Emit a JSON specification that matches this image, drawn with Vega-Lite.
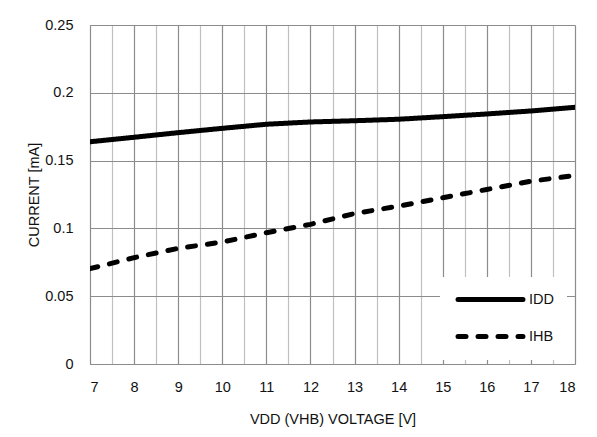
{
  "$schema": "https://vega.github.io/schema/vega-lite/v6.json",
  "autosize": {"type": "none"},
  "width": 485,
  "height": 339,
  "padding": {"left": 90, "top": 25, "right": 22, "bottom": 73},
  "background": "white",
  "config": {
    "font": "Liberation Sans",
    "view": {"stroke": null},
    "axis": {"labelFont": "Liberation Sans", "titleFont": "Liberation Sans", "labelFontSize": 14.5, "titleFontSize": 14.5, "titleFontWeight": "normal", "labelColor": "#111", "titleColor": "#111", "ticks": false, "domainColor": "#8c8c8c", "gridOpacity": 1}
  },
  "data": {"values": [
    {"v": 7, "series": "IDD", "current": 0.1639},
    {"v": 8, "series": "IDD", "current": 0.1672},
    {"v": 9, "series": "IDD", "current": 0.1706},
    {"v": 10, "series": "IDD", "current": 0.1738},
    {"v": 11, "series": "IDD", "current": 0.1768},
    {"v": 12, "series": "IDD", "current": 0.1785},
    {"v": 13, "series": "IDD", "current": 0.1794},
    {"v": 14, "series": "IDD", "current": 0.1805},
    {"v": 15, "series": "IDD", "current": 0.1824},
    {"v": 16, "series": "IDD", "current": 0.1844},
    {"v": 17, "series": "IDD", "current": 0.1866},
    {"v": 18, "series": "IDD", "current": 0.1893},
    {"v": 7, "series": "IHB", "current": 0.0703},
    {"v": 8, "series": "IHB", "current": 0.0784},
    {"v": 9, "series": "IHB", "current": 0.0853},
    {"v": 10, "series": "IHB", "current": 0.0899},
    {"v": 11, "series": "IHB", "current": 0.0968},
    {"v": 12, "series": "IHB", "current": 0.103},
    {"v": 13, "series": "IHB", "current": 0.111},
    {"v": 14, "series": "IHB", "current": 0.1164},
    {"v": 15, "series": "IHB", "current": 0.1226},
    {"v": 16, "series": "IHB", "current": 0.1287},
    {"v": 17, "series": "IHB", "current": 0.1348},
    {"v": 18, "series": "IHB", "current": 0.139}
  ]},
  "mark": {"type": "line", "strokeWidth": 5, "strokeCap": "round", "clip": true},
  "encoding": {
    "x": {
      "field": "v", "type": "quantitative",
      "scale": {"domain": [7, 18], "nice": false, "zero": false},
      "axis": {
        "title": "VDD (VHB) VOLTAGE [V]",
        "values": [7, 7.5, 8, 8.5, 9, 9.5, 10, 10.5, 11, 11.5, 12, 12.5, 13, 13.5, 14, 14.5, 15, 15.5, 16, 16.5, 17, 17.5, 18],
        "format": "~g",
        "labelExpr": "datum.value % 1 === 0 ? datum.label : ''",
        "labelPadding": 16,
        "titlePadding": 19,
        "grid": true,
        "gridColor": {"condition": {"test": "datum.value % 1 !== 0", "value": "#c0c0c0"}, "value": "#8c8c8c"},
        "gridWidth": 1.2
      }
    },
    "y": {
      "field": "current", "type": "quantitative",
      "scale": {"domain": [0, 0.25], "nice": false},
      "axis": {
        "title": "CURRENT [mA]",
        "values": [0, 0.05, 0.1, 0.15, 0.2, 0.25],
        "format": ".2~f",
        "labelPadding": 17,
        "titlePadding": 3,
        "grid": true,
        "gridColor": "#8c8c8c",
        "gridWidth": 1.2
      }
    },
    "color": {"field": "series", "type": "nominal", "scale": {"range": ["black", "black"]}, "legend": null},
    "strokeDash": {
      "field": "series", "type": "nominal",
      "scale": {"domain": ["IDD", "IHB"], "range": [[1, 0], [8, 12]]},
      "legend": {
        "title": null,
        "orient": "none",
        "legendX": 350,
        "legendY": 252,
        "fillColor": "white",
        "padding": 13,
        "symbolType": "M-4.64,0H4.64",
        "symbolSize": 196,
        "symbolOffset": 28,
        "symbolStrokeWidth": 5,
        "symbolStrokeColor": "black",
        "rowPadding": 16,
        "labelFont": "Liberation Sans",
        "labelFontSize": 14.5,
        "labelColor": "#111",
        "labelOffset": 29,
        "encode": {"symbols": {"update": {"strokeCap": {"value": "round"}}}}
      }
    }
  }
}
